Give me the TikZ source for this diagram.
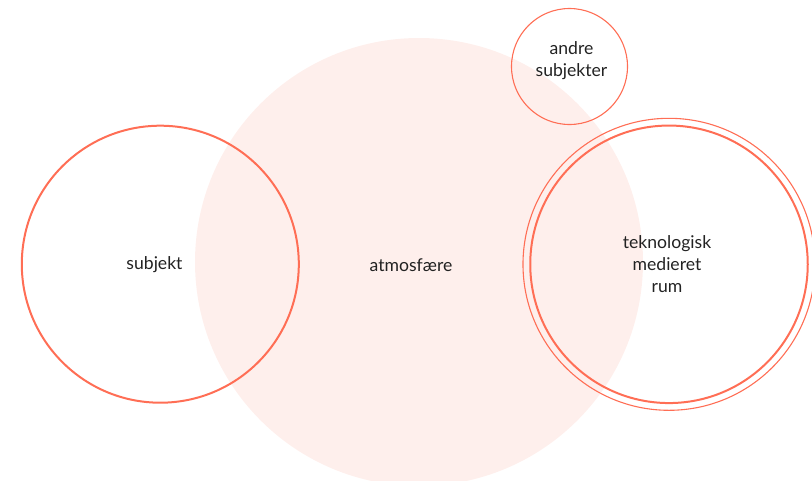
\documentclass[tikz,border=0pt]{standalone}
\usepackage{fontspec}
\setmainfont{Lato}
\definecolor{coral}{HTML}{FF6E55}
\definecolor{blush}{HTML}{FEEFEC}
\definecolor{ink}{HTML}{222222}
\begin{document}
\begin{tikzpicture}[x=1pt,y=-1pt,
  ring/.style={circle,draw=coral,inner sep=0pt},
  heavyring/.style={ring,line width=2pt},
  lightring/.style={ring,line width=1.1pt},
  caption/.style={text=ink,font=\fontsize{17.6}{22}\selectfont,align=center,inner sep=0pt}]
  \useasboundingbox (0,0) rectangle (812,480);
  \clip (0,0) rectangle (812,480);
  % atmosphere disc
  \node[circle,fill=blush,inner sep=0pt,minimum size=448pt] (atmo) at (419,262) {};
  % subject
  \node[heavyring,minimum size=277pt] (subj) at (160.3,264.2) {};
  % other subjects
  \node[lightring,minimum size=116pt] (others) at (569.5,66.5) {};
  % technologically mediated space: double ring
  \node[lightring,minimum size=292pt] (techout) at (669,264.3) {};
  \node[heavyring,minimum size=277.5pt] (techin) at (669,264.3) {};
  % captions
  \node[caption] (tatmo) at (411,265) {atmosfære};
  \node[caption] (tsubj) at (154.5,265) {subjekt};
  \node[caption] (tothers) at (571.5,61) {andre\\subjekter};
  \node[caption] (ttech) at (667,264) {teknologisk\\medieret\\rum};
\end{tikzpicture}
\end{document}
